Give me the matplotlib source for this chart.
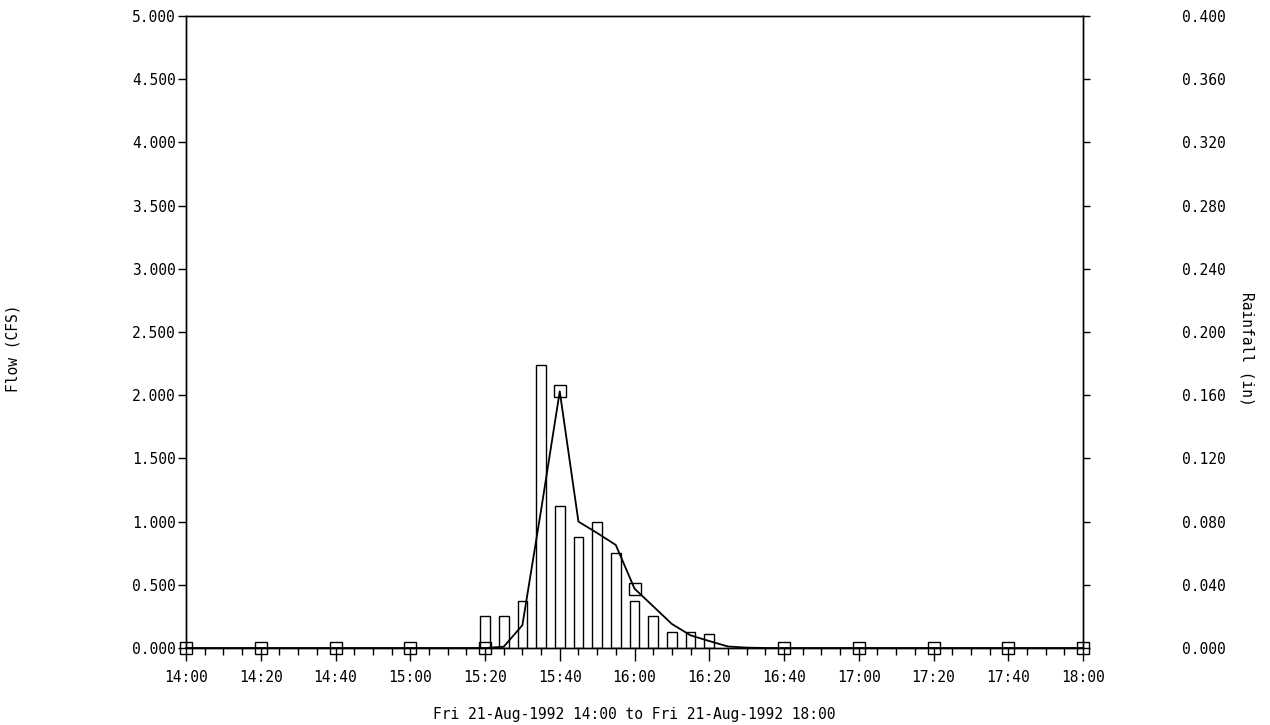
import matplotlib.pyplot as plt
import numpy as np

plt.rcParams['font.family'] = 'DejaVu Sans Mono'

# minutes after 14:00, 5 minute steps
flow_times = np.arange(0, 241, 5)
flow_cfs = [0.0] * 17 + [
    0.01, 0.18, 1.09, 2.03, 1.00, 0.91, 0.815, 0.47,   # 15:25 - 16:00
    0.33, 0.19, 0.10, 0.055, 0.012, 0.003,            # 16:05 - 16:30
] + [0.0] * 18
# points that carry a square marker (every 20 min, none at 16:20)
marker_idx = [0, 4, 8, 12, 16, 20, 24, 32, 36, 40, 44, 48]

rain_times = [80, 85, 90, 95, 100, 105, 110, 115, 120, 125, 130, 135, 140]
rain_in = [0.02, 0.02, 0.03, 0.179, 0.09, 0.07, 0.08, 0.06, 0.03, 0.02, 0.01, 0.01, 0.009]

x_ticks = np.arange(0, 241, 20)
x_labels = ['14:00', '14:20', '14:40', '15:00', '15:20', '15:40', '16:00',
            '16:20', '16:40', '17:00', '17:20', '17:40', '18:00']
flow_ticks = np.arange(0, 5.01, 0.5)
rain_ticks = np.arange(0, 0.401, 0.04)

fig = plt.figure(figsize=(12.7, 7.25), dpi=100)
ax = fig.add_axes([186 / 1270, 77 / 725, 897 / 1270, 632 / 725])
ax2 = ax.twinx()

# rainfall bars (right axis) under the flow line
ax2.bar(rain_times, rain_in, width=2.6, facecolor='white', edgecolor='black', linewidth=1)
ax2.set_ylim(0, 0.4)
ax2.set_yticks(rain_ticks)
ax2.set_yticklabels([f'{v:.3f}' for v in rain_ticks])
ax2.tick_params(axis='y', direction='out', length=5, width=1, pad=66, labelsize=10.5)

ax.set_zorder(ax2.get_zorder() + 1)
ax.patch.set_visible(False)
ax.plot(flow_times, flow_cfs, color='black', linewidth=1.3, marker='s', markevery=marker_idx,
        markersize=9, markerfacecolor='none', markeredgecolor='black', markeredgewidth=1,
        clip_on=False)
ax.set_xlim(0, 240)
ax.set_ylim(0, 5)
ax.set_yticks(flow_ticks)
ax.set_yticklabels([f'{v:.3f}' for v in flow_ticks])
ax.set_xticks(x_ticks)
ax.set_xticklabels(x_labels)
ax.set_xticks(np.arange(0, 241, 5), minor=True)
ax.tick_params(axis='y', direction='out', length=5.5, width=1, pad=2, labelsize=10.5)
ax.tick_params(axis='x', which='major', direction='out', length=9, width=1, pad=7, labelsize=10.5)
ax.tick_params(axis='x', which='minor', direction='out', length=5, width=1)

for a in (ax, ax2):
    for s in a.spines.values():
        s.set_linewidth(1)
        s.set_color('black')

fig.text(13 / 1270, 1 - 348 / 725, 'Flow (CFS)', rotation=90, ha='center', va='center', fontsize=10.5)
fig.text(1247 / 1270, 1 - 349 / 725, 'Rainfall (in)', rotation=-90, ha='center', va='center', fontsize=10.5)
fig.text(634 / 1270, 1 - 715 / 725, 'Fri 21-Aug-1992 14:00 to Fri 21-Aug-1992 18:00',
         ha='center', va='center', fontsize=10.5)

fig.savefig('out.png', dpi=100)
